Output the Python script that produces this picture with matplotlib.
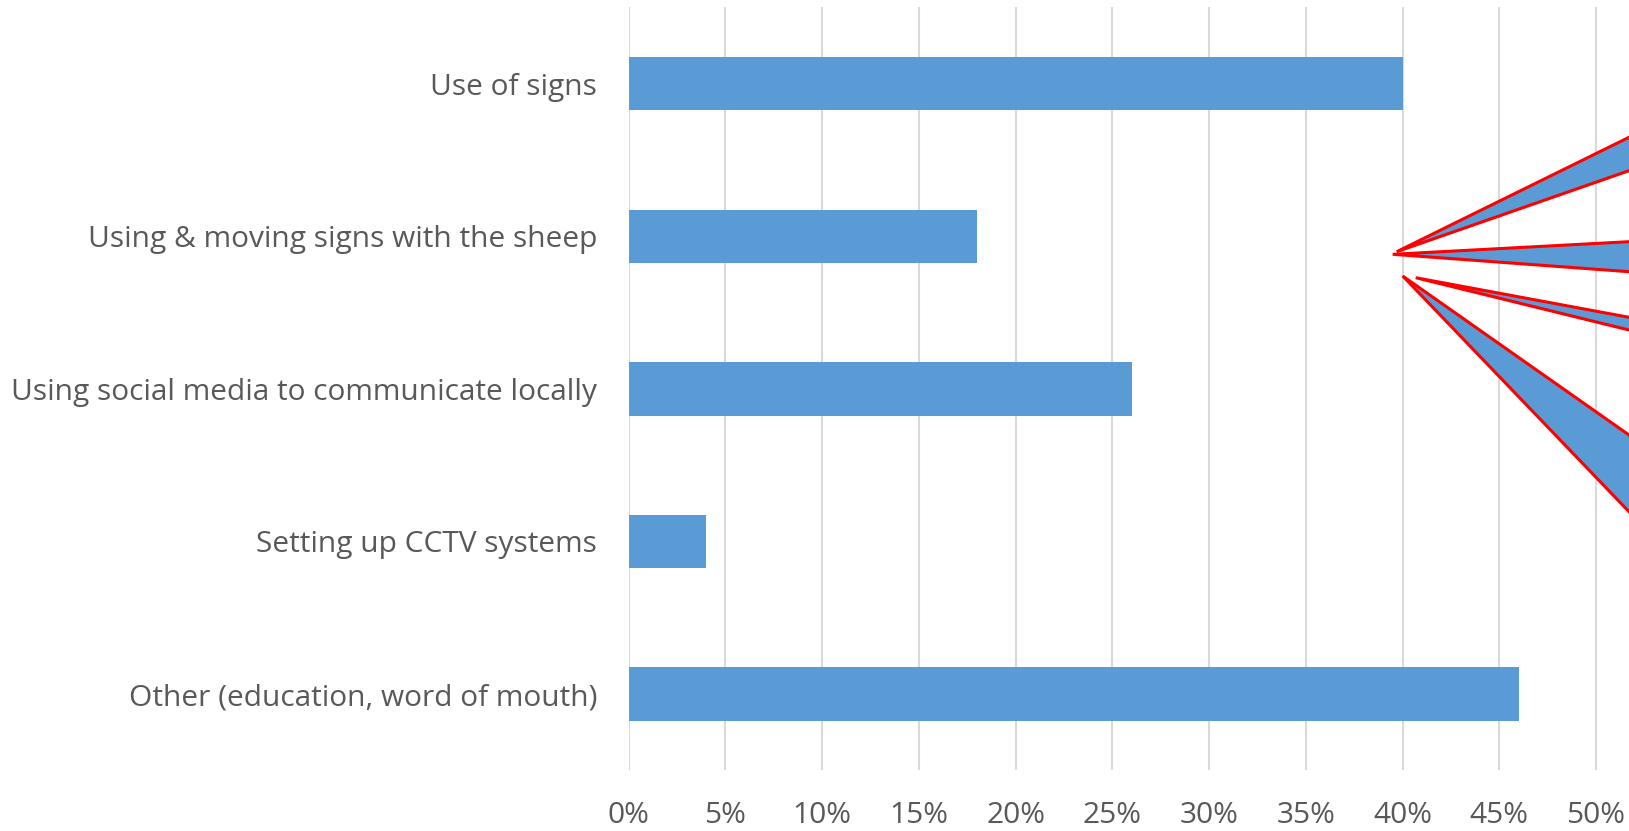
import numpy as np
import matplotlib
matplotlib.use("Agg")
import matplotlib.pyplot as plt
from matplotlib.patches import Polygon

# Data
categories = [
    "Use of signs",
    "Using & moving signs with the sheep",
    "Using social media to communicate locally",
    "Setting up CCTV systems",
    "Other (education, word of mouth)",
]
shares = [0.40, 0.18, 0.26, 0.04, 0.46]
tick_values = [0.00, 0.05, 0.10, 0.15, 0.20, 0.25, 0.30, 0.35, 0.40, 0.45, 0.50]

bar_color = "#5B9BD5"
text_color = "#595959"
grid_color = "#D9D9D9"

plt.rcParams['font.family'] = ['Open Sans', 'DejaVu Sans']

W, H = 1629, 831
fig = plt.figure(figsize=(W / 100, H / 100), dpi=100)

# axes placed in pixel terms
left_px, right_px = 628.5, 1629
top_px, bottom_px = 7.3, 770.4
ax = fig.add_axes([left_px / W, 1 - bottom_px / H,
                   (right_px - left_px) / W, (bottom_px - top_px) / H])

y = np.arange(len(categories))
ax.barh(y, shares, height=0.35, color=bar_color, zorder=3)

px_per_unit = 96.75 / 0.05
ax.set_xlim(0, (right_px - left_px) / px_per_unit)
ax.set_ylim(len(categories) - 0.5, -0.5)

ax.set_xticks(tick_values)
ax.set_xticklabels([f"{v * 100:.0f}%" for v in tick_values])
ax.set_yticks(y)
ax.set_yticklabels(categories)

ax.grid(axis='x', color=grid_color, linewidth=1.5, zorder=0)
for s in ax.spines.values():
    s.set_visible(False)
ax.tick_params(axis='y', length=0, pad=22.5, labelsize=21.5, labelcolor=text_color)
ax.tick_params(axis='x', length=0, pad=22, labelsize=21.5, labelcolor=text_color)

# callout leader wedges running off the right edge (figure pixel coords):
# apex, then where the two sides cross the right border
wedges = [
    [(1396.7, 251.7), (1629, 137.3), (1629, 170.7)],
    [(1392.7, 254.3), (1629, 241.7), (1629, 271.7)],
    [(1415.7, 277.7), (1629, 317.3), (1629, 330.0)],
    [(1402.7, 276.0), (1629, 435.0), (1629, 511.7)],
]
x_far = 1800
for pts in wedges:
    (ax0, ay0) = pts[0]
    ext = [pts[0]]
    for bx, by in pts[1:]:
        t = (x_far - ax0) / (bx - ax0)
        ext.append((x_far, ay0 + (by - ay0) * t))
    xy = [(px / W, 1 - py / H) for px, py in ext]
    fig.patches.append(Polygon(xy, closed=True, transform=fig.transFigure,
                               facecolor=bar_color, edgecolor="red",
                               linewidth=2.2, joinstyle='miter', zorder=5))

fig.savefig("out.png", dpi=100)
